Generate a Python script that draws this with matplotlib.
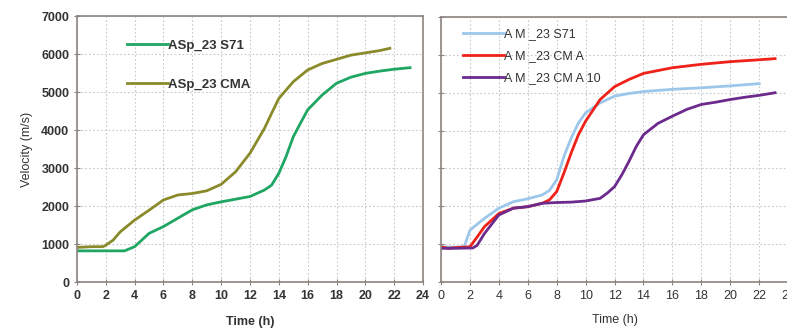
import matplotlib
matplotlib.use("Agg")
import matplotlib.pyplot as plt

plt.rcParams['font.family'] = ['Liberation Sans', 'DejaVu Sans']

# Left panel data
asp_s71_t = [0, 1, 2, 3, 3.3, 4, 5, 6, 7, 8, 9, 10, 11, 12, 13, 13.5, 14, 14.5, 15, 15.5, 16, 17, 18, 19, 20, 21, 22, 23.1]
asp_s71_v = [820, 820, 820, 820, 820, 930, 1280, 1460, 1680, 1900, 2030, 2110, 2180, 2250, 2420, 2550, 2860, 3300, 3820, 4180, 4530, 4920, 5230, 5390, 5490, 5550, 5600, 5640]
asp_cma_t = [0, 1, 1.8, 2, 2.5, 3, 4, 5, 6, 7, 8, 9, 10, 11, 12, 13, 13.5, 14, 15, 16, 17, 18, 19, 20, 21, 21.7]
asp_cma_v = [910, 930, 930, 970, 1100, 1320, 1630, 1890, 2160, 2290, 2330, 2400, 2570, 2900, 3390, 4040, 4440, 4830, 5270, 5580, 5750, 5860, 5970, 6030, 6090, 6150]

# Right panel data
am_s71_t = [0, 1, 1.6, 2, 3, 4, 5, 6, 7, 7.5, 8, 8.5, 9, 9.5, 10, 11, 12, 13, 14, 16, 18, 20, 22]
am_s71_v = [930, 920, 930, 1370, 1680, 1950, 2120, 2200, 2300, 2420, 2700, 3320, 3800, 4200, 4470, 4730, 4910, 4980, 5030, 5090, 5130, 5180, 5240]
am_cma_t = [0, 0.5, 1, 2, 2.5, 3, 4, 5, 6, 7, 7.5, 8, 8.5, 9, 9.5, 10, 11, 12, 13, 14, 16, 18, 20, 22, 23.1]
am_cma_v = [930, 890, 910, 930, 1190, 1460, 1810, 1950, 1990, 2080, 2170, 2390, 2880, 3410, 3890, 4250, 4820, 5160, 5350, 5510, 5660, 5750, 5820, 5870, 5900]
am_cma10_t = [0, 1, 2.2, 2.5, 3, 4, 5, 6, 7, 8, 9, 10, 11, 11.5, 12, 12.5, 13, 13.5, 14, 15, 16, 17, 18, 19, 20, 21, 22, 23.1]
am_cma10_v = [890, 890, 900, 970, 1280, 1770, 1950, 1990, 2080, 2100, 2110, 2140, 2210, 2350, 2520, 2830, 3190, 3580, 3890, 4190, 4380, 4560, 4690, 4750, 4820, 4880, 4930, 5000]

x_ticks = list(range(0, 25, 2))
y_ticks = list(range(0, 7001, 1000))

frame_c = "#8c8480"
grid_c = "#c8c8c8"
text_c = "#333333"

fig = plt.figure(figsize=(7.87, 3.28), dpi=100)
axL = fig.add_axes([0.0978, 0.1402, 0.4397, 0.8110])
axR = fig.add_axes([0.5604, 0.1402, 0.4410, 0.8080])

for ax in (axL, axR):
    ax.set_xlim(0, 24)
    ax.set_ylim(0, 7000)
    ax.set_xticks(x_ticks)
    ax.set_yticks(y_ticks)
    ax.grid(True, color=grid_c, linestyle=(0, (1.5, 2)), linewidth=0.8)
    for s in ax.spines.values():
        s.set_color(frame_c)
        s.set_linewidth(1.2)
    ax.tick_params(direction="inout", length=5, color=frame_c, labelsize=9, labelcolor=text_c, pad=3)

axL.plot(asp_s71_t, asp_s71_v, color="#1fa663", lw=2, label="ASp_23 S71")
axL.plot(asp_cma_t, asp_cma_v, color="#8b8a2b", lw=2, label="ASp_23 CMA")
axL.set_ylabel("Velocity (m/s)", fontsize=9, color=text_c, labelpad=6)
axL.set_xlabel("Time (h)", fontsize=9, color=text_c, fontweight="bold", labelpad=10)
for lab in axL.get_xticklabels() + axL.get_yticklabels():
    lab.set_fontweight("bold")
legL = axL.legend(loc="upper left", bbox_to_anchor=(0.11, 0.955), frameon=False,
                  handlelength=3.1, handletextpad=0.0, labelspacing=2.0, fontsize=9.5)
for t in legL.get_texts():
    t.set_fontweight("bold")
    t.set_color(text_c)

axR.plot(am_s71_t, am_s71_v, color="#9cc7ea", lw=2, label="A M _23 S71")
axR.plot(am_cma_t, am_cma_v, color="#ee2218", lw=2, label="A M _23 CM A")
axR.plot(am_cma10_t, am_cma10_v, color="#6b2a8c", lw=2, label="A M _23 CM A 10")
axR.set_yticklabels([])
axR.set_xlabel("Time (h)", fontsize=9, color=text_c, labelpad=9)
legR = axR.legend(loc="upper left", bbox_to_anchor=(0.03, 1.0), frameon=False,
                  handlelength=3.3, handletextpad=0.0, labelspacing=0.8, fontsize=9)
for t in legR.get_texts():
    t.set_color(text_c)

fig.savefig("out.png", dpi=100, facecolor="white")
